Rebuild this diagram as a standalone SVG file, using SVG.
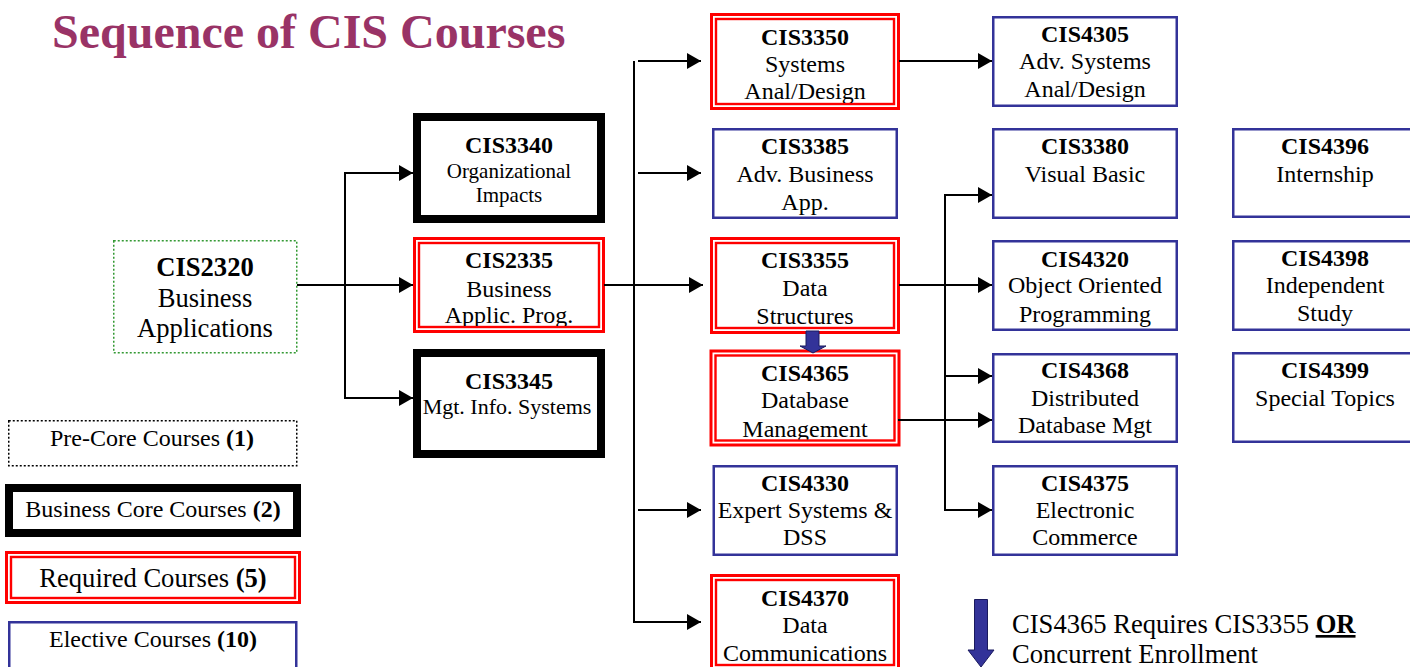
<svg xmlns="http://www.w3.org/2000/svg" width="1410" height="667" viewBox="0 0 1410 667">
<style>
text{font-family:"Liberation Serif","Times New Roman",serif;fill:#000}
.t{text-anchor:middle;font-size:24px}
.b{font-weight:bold}
.s21{font-size:21px}
.s22{font-size:22px}
.big{font-size:26.6px}
.blue{fill:#fff;stroke:#333399;stroke-width:2.5}
.thick{fill:#fff;stroke:#000;stroke-width:8}
.red1{fill:#fff;stroke:#f00;stroke-width:3}
.red2{fill:none;stroke:#f00;stroke-width:2.4}
.conn{stroke:#000;stroke-width:2;fill:none}
.blk{fill:#333399;stroke:#1a1a5e;stroke-width:1}
</style>
<defs>
<marker id="ah" viewBox="0 0 14 16" refX="14" refY="8" markerWidth="14" markerHeight="16" markerUnits="userSpaceOnUse" orient="auto">
<path d="M0,0 L14,8 L0,16 Z" fill="#000"/>
</marker>
<clipPath id="c3350"><rect x="717" y="20" width="176" height="83"/></clipPath>
<clipPath id="c2335"><rect x="420" y="244" width="178" height="82"/></clipPath>
<clipPath id="c3355"><rect x="717" y="244" width="176" height="83"/></clipPath>
<clipPath id="c4365"><rect x="716.5" y="356.5" width="177" height="83"/></clipPath>
<clipPath id="c4370"><rect x="717" y="581" width="176" height="90"/></clipPath>
</defs>

<text x="52" y="48" font-size="48" font-weight="bold" style="fill:#993366">Sequence of CIS Courses</text>

<g id="legend">
<g id="leg-precore">
<rect x="8.75" y="420.75" width="288" height="45" fill="#fff" stroke="#000" stroke-width="1.5" stroke-dasharray="2 2"/>
<text class="t" x="152" y="446">Pre-Core Courses <tspan class="b">(1)</tspan></text>
</g>
<g id="leg-core">
<rect class="thick" x="9" y="488" width="288" height="45"/>
<text class="t" x="153" y="517">Business Core Courses <tspan class="b">(2)</tspan></text>
</g>
<g id="leg-required">
<rect class="red1" x="6.5" y="552.5" width="293" height="50"/>
<rect class="red2" x="11" y="557" width="284" height="41"/>
<text class="t big" x="153" y="587">Required Courses <tspan class="b">(5)</tspan></text>
</g>
<g id="leg-elective">
<rect class="blue" x="9.25" y="622.25" width="287" height="50"/>
<text class="t" x="153" y="647">Elective Courses <tspan class="b">(10)</tspan></text>
</g>
<g id="leg-note">
<text x="1012" y="633" font-size="26.6">CIS4365 Requires CIS3355 <tspan font-weight="bold" text-decoration="underline">OR</tspan></text>
<text x="1012" y="663" font-size="26.6">Concurrent Enrollment</text>
</g>
</g>

<g id="CIS2320">
<rect x="113.75" y="240.75" width="183" height="112" fill="#fff" stroke="#339933" stroke-width="1.5" stroke-dasharray="2 2"/>
<text class="t big b" x="205" y="276">CIS2320</text>
<text class="t big" x="205" y="307">Business</text>
<text class="t big" x="205" y="337">Applications</text>
</g>

<g id="CIS3340">
<rect class="thick" x="417" y="117" width="184" height="102"/>
<text class="t b" x="509" y="153">CIS3340</text>
<text class="t s21" x="509" y="178">Organizational</text>
<text class="t s21" x="509" y="202">Impacts</text>
</g>

<g id="CIS2335">
<rect class="red1" x="414.5" y="238.5" width="189" height="93"/>
<rect class="red2" x="419" y="243" width="180" height="84"/>
<g clip-path="url(#c2335)">
<text class="t b" x="509" y="268">CIS2335</text>
<text class="t" x="509" y="297">Business</text>
<text class="t" x="509" y="323">Applic. Prog.</text>
</g>
</g>

<g id="CIS3345">
<rect class="thick" x="417" y="353" width="184" height="101"/>
<text class="t b" x="509" y="389">CIS3345</text>
<text class="t s22" x="507" y="414">Mgt. Info. Systems</text>
</g>

<g id="CIS3350">
<rect class="red1" x="711.5" y="14.5" width="187" height="94"/>
<rect class="red2" x="716" y="19" width="178" height="85"/>
<g clip-path="url(#c3350)">
<text class="t b" x="805" y="45">CIS3350</text>
<text class="t" x="805" y="72">Systems</text>
<text class="t" x="805" y="99">Anal/Design</text>
</g>
</g>

<g id="CIS3385">
<rect class="blue" x="713.25" y="129.25" width="183.5" height="88.5"/>
<text class="t b" x="805" y="154">CIS3385</text>
<text class="t" x="805" y="182">Adv. Business</text>
<text class="t" x="805" y="210">App.</text>
</g>

<g id="CIS3355">
<rect class="red1" x="711.5" y="238.5" width="187" height="94"/>
<rect class="red2" x="716" y="243" width="178" height="85"/>
<g clip-path="url(#c3355)">
<text class="t b" x="805" y="268">CIS3355</text>
<text class="t" x="805" y="296">Data</text>
<text class="t" x="805" y="324">Structures</text>
</g>
</g>

<g id="CIS4365">
<rect class="red1" x="711" y="351" width="188" height="94"/>
<rect class="red2" x="715.5" y="355.5" width="179" height="85"/>
<g clip-path="url(#c4365)">
<text class="t b" x="805" y="381">CIS4365</text>
<text class="t" x="805" y="408">Database</text>
<text class="t" x="805" y="437">Management</text>
</g>
</g>

<g id="CIS4330">
<rect class="blue" x="713.75" y="466.25" width="183" height="88.5"/>
<text class="t b" x="805" y="491">CIS4330</text>
<text class="t" x="805" y="518">Expert Systems &amp;</text>
<text class="t" x="805" y="545">DSS</text>
</g>

<g id="CIS4370">
<rect class="red1" x="711.5" y="575.5" width="187" height="94"/>
<rect class="red2" x="716" y="580" width="178" height="85"/>
<g clip-path="url(#c4370)">
<text class="t b" x="805" y="606">CIS4370</text>
<text class="t" x="805" y="633">Data</text>
<text class="t" x="805" y="661">Communications</text>
</g>
</g>

<g id="CIS4305">
<rect class="blue" x="993.25" y="17.25" width="183.5" height="88.5"/>
<text class="t b" x="1085" y="42">CIS4305</text>
<text class="t" x="1085" y="69">Adv. Systems</text>
<text class="t" x="1085" y="97">Anal/Design</text>
</g>

<g id="CIS3380">
<rect class="blue" x="993.25" y="129.25" width="183.5" height="88.5"/>
<text class="t b" x="1085" y="154">CIS3380</text>
<text class="t" x="1085" y="182">Visual Basic</text>
</g>

<g id="CIS4320">
<rect class="blue" x="993.25" y="241.25" width="183.5" height="88.5"/>
<text class="t b" x="1085" y="267">CIS4320</text>
<text class="t" x="1085" y="293">Object Oriented</text>
<text class="t" x="1085" y="322">Programming</text>
</g>

<g id="CIS4368">
<rect class="blue" x="993.25" y="354.25" width="183.5" height="87.5"/>
<text class="t b" x="1085" y="378">CIS4368</text>
<text class="t" x="1085" y="406">Distributed</text>
<text class="t" x="1085" y="433">Database Mgt</text>
</g>

<g id="CIS4375">
<rect class="blue" x="993.25" y="466.25" width="183.5" height="88.5"/>
<text class="t b" x="1085" y="491">CIS4375</text>
<text class="t" x="1085" y="518">Electronic</text>
<text class="t" x="1085" y="545">Commerce</text>
</g>

<g id="CIS4396">
<rect class="blue" x="1233.25" y="129.25" width="185" height="87.5"/>
<text class="t b" x="1325" y="154">CIS4396</text>
<text class="t" x="1325" y="182">Internship</text>
</g>

<g id="CIS4398">
<rect class="blue" x="1233.25" y="241.25" width="185" height="88.5"/>
<text class="t b" x="1325" y="266">CIS4398</text>
<text class="t" x="1325" y="293">Independent</text>
<text class="t" x="1325" y="321">Study</text>
</g>

<g id="CIS4399">
<rect class="blue" x="1233.25" y="353.25" width="185" height="88.5"/>
<text class="t b" x="1325" y="378">CIS4399</text>
<text class="t" x="1325" y="406">Special Topics</text>
</g>

<g id="connectors">
<path class="conn" d="M297,285 H413" marker-end="url(#ah)"/>
<path class="conn" d="M345,173 V398"/>
<path class="conn" d="M344,173 H413" marker-end="url(#ah)"/>
<path class="conn" d="M344,398 H413" marker-end="url(#ah)"/>
<path class="conn" d="M604,285 H703" marker-end="url(#ah)"/>
<path class="conn" d="M634,61 V623"/>
<path class="conn" d="M638,61 H701" marker-end="url(#ah)"/>
<path class="conn" d="M638,173 H701" marker-end="url(#ah)"/>
<path class="conn" d="M638,510 H701" marker-end="url(#ah)"/>
<path class="conn" d="M633,622 H701" marker-end="url(#ah)"/>
<path class="conn" d="M899,61 H992" marker-end="url(#ah)"/>
<path class="conn" d="M899,285 H992" marker-end="url(#ah)"/>
<path class="conn" d="M945,195 V511"/>
<path class="conn" d="M944,195 H992" marker-end="url(#ah)"/>
<path class="conn" d="M944,376 H992" marker-end="url(#ah)"/>
<path class="conn" d="M944,510 H992" marker-end="url(#ah)"/>
<path class="conn" d="M898,420 H992" marker-end="url(#ah)"/>
<polygon class="blk" points="806,331 819,331 819,346 826,346 813,353 800,346 806,346"/>
<polygon class="blk" points="974.5,599.5 987.5,599.5 987.5,650 994,650 981,667 968,650 974.5,650"/>
</g>
</svg>
